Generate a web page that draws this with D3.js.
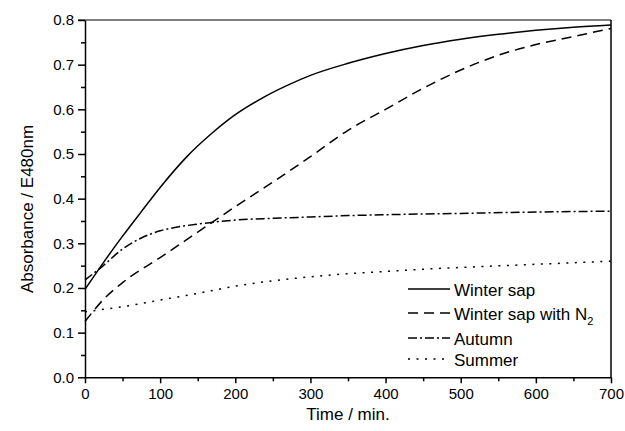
<!DOCTYPE html>
<html>
<head>
<meta charset="utf-8">
<script src="https://cdn.jsdelivr.net/npm/d3@7"></script>
<style>
  body { margin: 0; background: #fff; }
  svg { display: block; font-family: "Liberation Sans", Arial, sans-serif; }
  .axis path, .axis line { stroke: #000; stroke-width: 1.5; }
  .axis text { font-size: 15px; fill: #000; }
</style>
</head>
<body>
<div id="chart"></div>
<script>
// Data
const winterSapTime = [0, 25, 50, 75, 100, 135, 170, 200, 240, 275, 300, 350, 400, 450, 500, 550, 600, 650, 700];
const winterSapVals = [0.197, 0.258, 0.316, 0.371, 0.425, 0.493, 0.548, 0.588, 0.629, 0.658, 0.676, 0.703, 0.725, 0.743, 0.757, 0.768, 0.777, 0.784, 0.789];

const winterN2Time = [0, 25, 50, 100, 150, 200, 250, 300, 350, 400, 450, 500, 550, 600, 650, 700];
const winterN2Vals = [0.125, 0.175, 0.212, 0.268, 0.325, 0.382, 0.437, 0.494, 0.553, 0.60, 0.647, 0.688, 0.721, 0.745, 0.763, 0.781];

const autumnTime = [0, 20, 50, 75, 100, 125, 150, 200, 250, 300, 350, 400, 500, 600, 700];
const autumnVals = [0.218, 0.244, 0.287, 0.312, 0.328, 0.337, 0.343, 0.352, 0.356, 0.359, 0.362, 0.364, 0.367, 0.370, 0.372];

const summerTime = [0, 50, 100, 150, 200, 250, 300, 350, 400, 450, 500, 600, 700];
const summerVals = [0.147, 0.158, 0.173, 0.188, 0.204, 0.216, 0.225, 0.232, 0.237, 0.242, 0.246, 0.253, 0.260];

const xTicks = [0, 100, 200, 300, 400, 500, 600, 700];
const yTicks = [0, 0.1, 0.2, 0.3, 0.4, 0.5, 0.6, 0.7, 0.8];

// Global layout
const W = 625, H = 431;
const plot = { left: 85, right: 611, top: 20, bottom: 377.3 };

const x = d3.scaleLinear().domain([0, 700]).range([plot.left, plot.right]);
const y = d3.scaleLinear().domain([0, 0.8]).range([plot.bottom, plot.top]);

const svg = d3.select("#chart")
  .append("svg")
    .attr("width", W)
    .attr("height", H);

// top & right frame
svg.append("line")
  .attr("x1", plot.left - 7).attr("x2", plot.right)
  .attr("y1", plot.top).attr("y2", plot.top)
  .attr("stroke", "#555").attr("stroke-width", 1.5);
svg.append("line")
  .attr("x1", plot.right).attr("x2", plot.right)
  .attr("y1", plot.top).attr("y2", plot.bottom)
  .attr("stroke", "#000").attr("stroke-width", 1.5);

// minor ticks
svg.append("g")
  .attr("class", "axis")
  .attr("transform", "translate(0," + plot.bottom + ")")
  .call(d3.axisBottom(x).tickValues(d3.range(50, 700, 100)).tickSize(4).tickFormat(""))
  .select(".domain").remove();
svg.append("g")
  .attr("class", "axis")
  .attr("transform", "translate(" + plot.left + ",0)")
  .call(d3.axisLeft(y).tickValues(d3.range(0.05, 0.8, 0.1)).tickSize(4).tickFormat(""))
  .select(".domain").remove();

// major axes
svg.append("g")
  .attr("class", "axis")
  .attr("transform", "translate(0," + plot.bottom + ")")
  .call(d3.axisBottom(x).tickValues(xTicks).tickSize(6).tickPadding(5).tickSizeOuter(0).tickFormat(d3.format("d")));
svg.append("g")
  .attr("class", "axis")
  .attr("transform", "translate(" + plot.left + ",0)")
  .call(d3.axisLeft(y).tickValues(yTicks).tickSize(7).tickPadding(4).tickSizeOuter(0).tickFormat(d3.format(".1f")));

// axis titles
svg.append("text")
  .attr("x", (plot.left + plot.right) / 2)
  .attr("y", 420)
  .attr("text-anchor", "middle")
  .style("font-size", "17px")
  .text("Time / min.");

svg.append("text")
  .attr("transform", "translate(33,209) rotate(-90)")
  .attr("text-anchor", "middle")
  .style("font-size", "17px")
  .text("Absorbance / E480nm");

// series
const series = [
  { name: "Winter sap", t: winterSapTime, v: winterSapVals, dash: null },
  { name: "Winter sap with N", sub: "2", t: winterN2Time, v: winterN2Vals, dash: "10,6" },
  { name: "Autumn", t: autumnTime, v: autumnVals, dash: "9,3,2,3" },
  { name: "Summer", t: summerTime, v: summerVals, dash: "2,6.5" }
];

const line = d3.line()
  .x(d => x(d[0]))
  .y(d => y(d[1]))
  .curve(d3.curveMonotoneX);

series.forEach(s => {
  svg.append("path")
    .attr("d", line(d3.zip(s.t, s.v)))
    .attr("fill", "none")
    .attr("stroke", "#000")
    .attr("stroke-width", 1.5)
    .attr("stroke-dasharray", s.dash);
});

// legend
const legendRows = [289, 313, 338, 359];
const legendBase = [296, 320, 345, 366];
series.forEach((s, i) => {
  svg.append("line")
    .attr("x1", 408).attr("x2", 450)
    .attr("y1", legendRows[i]).attr("y2", legendRows[i])
    .attr("stroke", "#000")
    .attr("stroke-width", 1.5)
    .attr("stroke-dasharray", s.dash);
  const t = svg.append("text")
    .attr("x", 454)
    .attr("y", legendBase[i])
    .style("font-size", "17px")
    .text(s.name);
  if (s.sub) {
    t.append("tspan")
      .attr("dy", 5)
      .style("font-size", "11px")
      .text(s.sub);
  }
});
</script>
</body>
</html>
